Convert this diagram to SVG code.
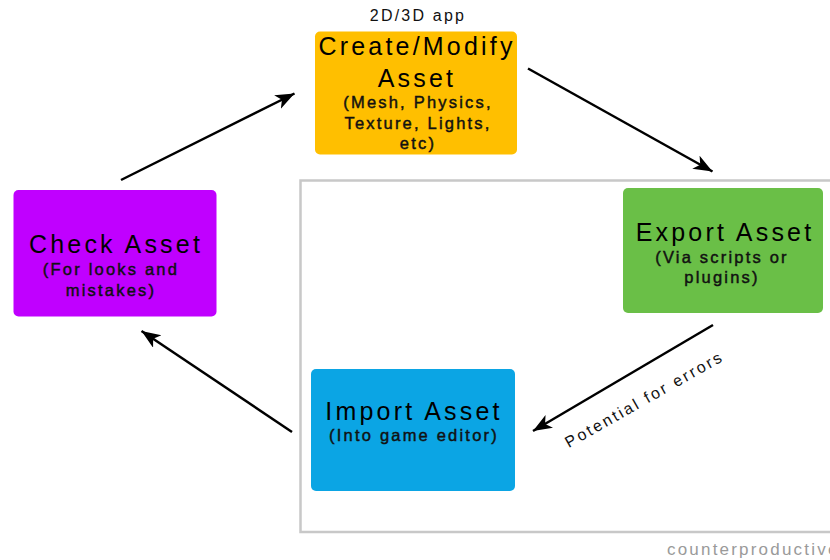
<svg xmlns="http://www.w3.org/2000/svg" width="830" height="560" viewBox="0 0 830 560">
  <style>
    .box { stroke: none; }
    .title { font-family: "Liberation Sans", Arial, sans-serif; font-size: 25px; letter-spacing: 3.2px; fill: #000; text-anchor: middle; }
    .sub { font-family: "Liberation Sans", Arial, sans-serif; font-size: 16.5px; letter-spacing: 2.2px; fill: #111; stroke: #111; stroke-width: 0.45; text-anchor: middle; }
    .note { font-family: "Liberation Sans", Arial, sans-serif; font-size: 16px; letter-spacing: 2.4px; fill: #111; text-anchor: middle; }
    .credit { font-family: "Liberation Sans", Arial, sans-serif; font-size: 17px; letter-spacing: 2.2px; fill: #9a9a9a; }
    .edge { stroke: #000; stroke-width: 2.5; fill: none; marker-end: url(#arrow); }
  </style>
  <defs>
    <marker id="arrow" markerUnits="userSpaceOnUse" markerWidth="20" markerHeight="16" refX="19" refY="7.5" orient="auto">
      <path d="M0,0 L19,7.5 L0,15 L5,7.5 z" fill="#000"/>
    </marker>
  </defs>

  <rect width="830" height="560" fill="#fff"/>

  <!-- pipeline frame (open to the right) -->
  <path d="M832,180.5 H300.5 V532 H832" fill="none" stroke="#c8c8c8" stroke-width="2.5"/>

  <text class="note" x="418" y="21" style="letter-spacing:2.2px">2D/3D app</text>

  <g id="create">
    <rect class="box" x="315" y="31.5" width="202" height="123" rx="5" fill="#ffbf00"/>
    <text class="title" x="417" y="55">Create/Modify</text>
    <text class="title" x="417" y="87">Asset</text>
    <text class="sub" x="418" y="108">(Mesh, Physics,</text>
    <text class="sub" x="418" y="129">Texture, Lights,</text>
    <text class="sub" x="418" y="149">etc)</text>
  </g>

  <g id="export">
    <rect class="box" x="623" y="188" width="200" height="125" rx="5" fill="#6abf47"/>
    <text class="title" x="725" y="241">Export Asset</text>
    <text class="sub" x="722" y="263">(Via scripts or</text>
    <text class="sub" x="722" y="283">plugins)</text>
  </g>

  <g id="import">
    <rect class="box" x="311" y="369" width="204" height="122" rx="5" fill="#0ba5e4"/>
    <text class="title" x="414" y="420">Import Asset</text>
    <text class="sub" x="414" y="441">(Into game editor)</text>
  </g>

  <g id="check">
    <rect class="box" x="13.5" y="190" width="203" height="126.5" rx="5" fill="#c000ff"/>
    <text class="title" x="116" y="253">Check Asset</text>
    <text class="sub" x="111" y="275">(For looks and</text>
    <text class="sub" x="111" y="296">mistakes)</text>
  </g>

  <g id="connectors">
    <line class="edge" x1="121" y1="180" x2="294.5" y2="93.5"/>
    <line class="edge" x1="528" y1="68.5" x2="712.5" y2="171.5"/>
    <line class="edge" x1="713" y1="325" x2="533" y2="431"/>
    <line class="edge" x1="292" y1="432" x2="141.5" y2="331"/>
    <text class="note" transform="translate(647,404) rotate(-29.5)">Potential for errors</text>
  </g>

  <text class="credit" x="667" y="555">counterproductive</text>
</svg>
